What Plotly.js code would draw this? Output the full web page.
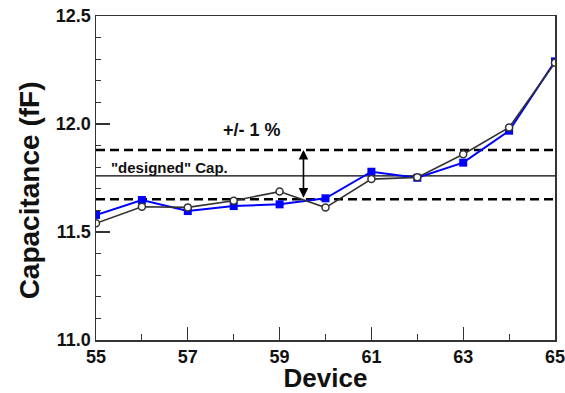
<!DOCTYPE html>
<html><head><meta charset="utf-8">
<script src="https://cdn.plot.ly/plotly-3.0.1.min.js"></script>
<style>html,body{margin:0;padding:0;background:#fff}#c{width:565px;height:393px}</style>
</head><body><div id="c"></div>
<script>
const devices = [55,56,57,58,59,60,61,62,63,64,65];
const capBlue = [11.579,11.648,11.597,11.620,11.628,11.656,11.779,11.751,11.821,11.969,12.290];
const capBlack = [11.540,11.617,11.614,11.645,11.687,11.613,11.745,11.753,11.860,11.984,12.284];
const designedCap = 11.76;
const upperLimit = 11.88;
const lowerLimit = 11.652;
const xRange = [55,65];
const yRange = [11.0,12.5];
const arrowX = 59.52;

const F = 'Liberation Sans, Arial, sans-serif';
const traces = [
  {x:xRange, y:[upperLimit,upperLimit], mode:'lines', line:{color:'#000',width:2.5,dash:'9px,5px'}, hoverinfo:'skip'},
  {x:xRange, y:[lowerLimit,lowerLimit], mode:'lines', line:{color:'#000',width:2.5,dash:'9px,5px'}, hoverinfo:'skip'},
  {x:xRange, y:[designedCap,designedCap], mode:'lines', line:{color:'#000',width:1.2}, hoverinfo:'skip'},
  {x:devices, y:capBlue, mode:'lines+markers', line:{color:'#0000ff',width:2},
   marker:{symbol:'square',size:8,color:'#0000ff'}},
  {x:devices, y:capBlack, mode:'lines+markers', line:{color:'#333',width:1.6},
   marker:{symbol:'circle',size:7,color:'#fff',line:{color:'#333',width:1.5}}}
];

const layout = {
  width:565, height:393,
  margin:{l:96,r:10,t:16,b:53},
  paper_bgcolor:'#fff', plot_bgcolor:'#fff',
  showlegend:false,
  xaxis:{range:xRange, tickvals:[55,57,59,61,63,65], ticks:'inside', ticklen:13, tickwidth:1.2, tickcolor:'#333',
    ticklabeloverflow:'allow',
    minor:{tickvals:[56,58,60,62,64], ticks:'inside', ticklen:6, tickcolor:'#333', tickwidth:1},
    showgrid:false, zeroline:false, showline:true, linecolor:'#333', linewidth:1.5, mirror:true,
    tickfont:{family:F,size:18,color:'#111',weight:'bold'},
    title:{text:'<b>Device</b>', font:{family:F,size:26,color:'#111'}, standoff:10}},
  yaxis:{range:yRange, tickvals:[11.0,11.5,12.0,12.5], ticktext:['11.0','11.5','12.0','12.5'], ticks:'inside', ticklen:14, tickwidth:1.2, tickcolor:'#333',
    minor:{dtick:0.1, ticks:'inside', ticklen:5, tickcolor:'#333', tickwidth:1},
    showgrid:false, zeroline:false, showline:true, linecolor:'#333', linewidth:1.5, mirror:true,
    tickfont:{family:F,size:18,color:'#111',weight:'bold'}},
  annotations:[
    {x:-0.143, y:0.463, xref:'paper', yref:'paper', text:'<b>Capacitance (fF)</b>', textangle:-90, showarrow:false,
     xanchor:'center', yanchor:'middle', font:{family:F,size:28,color:'#111'}},
    {x:58.4, y:11.972, xref:'x', yref:'y', text:'<b>+/- 1 %</b>', showarrow:false, font:{family:F,size:18,color:'#111'}},
    {x:56.6, y:11.80, xref:'x', yref:'y', text:'<b>"designed" Cap.</b>', showarrow:false, font:{family:F,size:15,color:'#111'}},
    {x:arrowX, y:upperLimit, ax:arrowX, ay:lowerLimit, xref:'x', yref:'y', axref:'x', ayref:'y', text:'',
     showarrow:true, arrowhead:2, startarrowhead:2, arrowside:'end+start', arrowsize:1.2, arrowwidth:1.6, arrowcolor:'#000', standoff:0, startstandoff:0}
  ]
};
Plotly.newPlot('c', traces, layout, {staticPlot:true, displayModeBar:false});
</script></body></html>
